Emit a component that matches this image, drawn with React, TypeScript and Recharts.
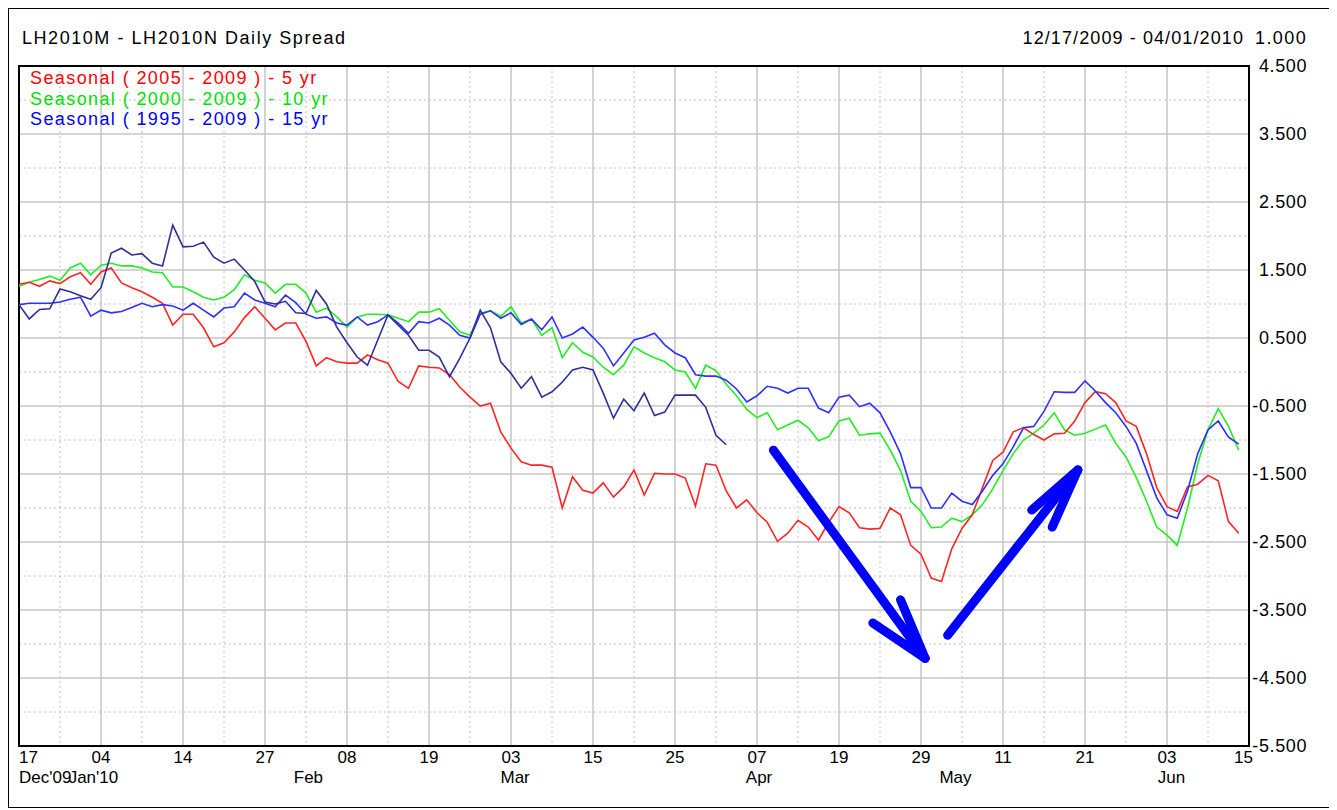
import React from 'react';
import {
  LineChart,
  Line,
  XAxis,
  YAxis,
  CartesianGrid,
  ReferenceArea,
  ReferenceLine
} from 'recharts';

// trading-day index 0..120, ticks every 8 days
const dayTicks = [0, 8, 16, 24, 32, 40, 48, 56, 64, 72, 80, 88, 96, 104, 112, 120];
const dayLabels = ['17', '04', '14', '27', '08', '19', '03', '15', '25', '07', '19', '29', '11', '21', '03', '15'];
const minorDays = [4, 12, 20, 28, 36, 44, 52, 60, 68, 76, 84, 92, 100, 108, 116];
const monthTicks = [0, 7.2, 28, 48, 71.6, 90.6, 111.5];
const monthLabels = ["Dec'09", "Jan'10", 'Feb', 'Mar', 'Apr', 'May', 'Jun'];

const yTicks = [4.5, 3.5, 2.5, 1.5, 0.5, -0.5, -1.5, -2.5, -3.5, -4.5, -5.5];
const yMinor = [4, 3, 2, 1, 0, -1, -2, -3, -4, -5];

// Seasonal ( 2005 - 2009 ) - 5 yr
const red5 = [
  1.29, 1.32, 1.26, 1.34, 1.3, 1.4, 1.46, 1.29, 1.47, 1.53,
  1.31, 1.24, 1.18, 1.1, 1.01, 0.69, 0.85, 0.85, 0.65, 0.37,
  0.43, 0.59, 0.8, 0.96, 0.79, 0.62, 0.72, 0.72, 0.45, 0.09,
  0.21, 0.15, 0.13, 0.13, 0.25, 0.18, 0.13, -0.14, -0.24, 0.09,
  0.07, 0.06, -0.04, -0.22, -0.37, -0.5, -0.46, -0.88, -1.12, -1.32,
  -1.37, -1.37, -1.4, -2.0, -1.54, -1.74, -1.78, -1.63, -1.84, -1.69,
  -1.44, -1.81, -1.49, -1.5, -1.5, -1.56, -1.97, -1.35, -1.37, -1.75,
  -2.0, -1.88, -2.07, -2.21, -2.49, -2.37, -2.18, -2.28, -2.47, -2.21,
  -1.98, -2.07, -2.29, -2.31, -2.3, -2.0, -2.1, -2.55, -2.68, -3.03,
  -3.08, -2.6, -2.3, -2.1, -1.7, -1.3, -1.18, -0.88, -0.82, -0.92,
  -1.0, -0.91, -0.9, -0.72, -0.45, -0.29, -0.32, -0.45, -0.72, -0.8,
  -1.2, -1.7, -1.98, -2.05, -1.69, -1.65, -1.52, -1.6, -2.2, -2.37
];

// Seasonal ( 2000 - 2009 ) - 10 yr
const green10 = [
  1.26, 1.32, 1.36, 1.41, 1.35, 1.53, 1.6, 1.43, 1.57, 1.6,
  1.56, 1.56, 1.53, 1.47, 1.46, 1.25, 1.25, 1.18, 1.1, 1.06,
  1.1, 1.21, 1.43, 1.35, 1.31, 1.16, 1.29, 1.29, 1.16, 0.88,
  0.94, 0.81, 0.66, 0.81, 0.85, 0.85, 0.84, 0.79, 0.74, 0.88,
  0.88, 0.93, 0.76, 0.59, 0.54, 0.86, 0.9, 0.82, 0.96, 0.72,
  0.78, 0.54, 0.65, 0.21, 0.43, 0.29, 0.22, 0.07, -0.04, 0.1,
  0.37, 0.28, 0.21, 0.15, 0.03, 0.0, -0.24, 0.1, 0.02, -0.18,
  -0.35, -0.55, -0.67, -0.6, -0.85, -0.78, -0.71, -0.82, -1.01, -0.95,
  -0.72, -0.68, -0.93, -0.91, -0.9, -1.15, -1.45, -1.9, -2.05, -2.29,
  -2.28, -2.15, -2.2, -2.1, -1.95, -1.72, -1.45, -1.2, -1.0, -0.9,
  -0.78, -0.6, -0.85, -0.93, -0.9, -0.84, -0.78, -1.05, -1.25, -1.55,
  -1.9, -2.28, -2.4, -2.55, -2.0, -1.35, -0.85, -0.54, -0.8, -1.15
];

// Seasonal ( 1995 - 2009 ) - 15 yr
const blue15 = [
  0.99, 1.01, 1.01, 1.01, 1.03, 1.07, 1.1, 0.82, 0.91, 0.87,
  0.89, 0.95, 1.01, 0.96, 0.99, 0.97, 0.91, 1.01, 0.91, 0.81,
  0.94, 0.96, 1.16, 1.06, 1.01, 0.96, 1.13, 1.02, 0.85, 0.79,
  0.81, 0.72, 0.69, 0.81, 0.69, 0.74, 0.84, 0.72, 0.57, 0.74,
  0.72, 0.79, 0.69, 0.54, 0.5, 0.85, 0.9, 0.79, 0.87, 0.7,
  0.78, 0.62, 0.81, 0.5, 0.56, 0.66, 0.51, 0.35, 0.09, 0.28,
  0.47, 0.51, 0.57, 0.4, 0.28, 0.21, -0.04, -0.06, -0.06, -0.12,
  -0.25, -0.44, -0.35, -0.21, -0.24, -0.31, -0.24, -0.24, -0.53, -0.6,
  -0.37, -0.34, -0.51, -0.46, -0.6, -0.88, -1.2, -1.7, -1.7, -2.0,
  -2.0, -1.78, -1.9, -1.95, -1.75, -1.52, -1.35, -1.1, -0.82, -0.8,
  -0.58, -0.29, -0.3, -0.3, -0.13, -0.28, -0.45, -0.6, -0.8, -1.05,
  -1.45, -1.85, -2.1, -2.15, -1.75, -1.2, -0.85, -0.72, -0.96, -1.06
];

// actual 2010 spread, 12/17/2009 - 04/01/2010
const actual2010 = [
  0.99, 0.78, 0.92, 0.93, 1.22, 1.18, 1.12, 1.07, 1.24, 1.75,
  1.82, 1.72, 1.74, 1.6, 1.56, 2.16, 1.84, 1.85, 1.91, 1.69,
  1.6, 1.66, 1.5, 1.33, 1.03, 1.0, 1.04, 0.87, 0.86, 1.2,
  1.0, 0.66, 0.43, 0.22, 0.1, 0.47, 0.84, 0.69, 0.54, 0.32,
  0.32, 0.22, -0.07, 0.2, 0.5, 0.91, 0.65, 0.15, -0.02, -0.24,
  -0.07, -0.37, -0.29, -0.15, 0.03, 0.07, 0.03, -0.31, -0.68, -0.4,
  -0.57, -0.31, -0.64, -0.59, -0.34, -0.34, -0.34, -0.52, -0.93, -1.07
];

// hand-drawn arrows: [x1, y1, x2, y2] in chart units
const arrowSegments = [
  [73.6, -1.15, 88.4, -4.21],
  [83.3, -3.69, 88.4, -4.21],
  [86.0, -3.35, 88.4, -4.21],
  [90.6, -3.87, 103.3, -1.44],
  [98.8, -2.03, 103.3, -1.44],
  [100.8, -2.28, 103.3, -1.44]
];

const legendItems = [
  { label: 'Seasonal ( 2005 - 2009 ) - 5 yr', color: '#ff0000' },
  { label: 'Seasonal ( 2000 - 2009 ) - 10 yr', color: '#00e000' },
  { label: 'Seasonal ( 1995 - 2009 ) - 15 yr', color: '#0000ff' }
];

const rows = red5.map((r, i) => ({
  i,
  r,
  g: green10[i],
  b: blue15[i],
  n: i < actual2010.length ? actual2010[i] : null
}));

const FONT = '"Liberation Sans", Arial, sans-serif';

const DayTick = (props: any) => {
  const { x, y, index } = props;
  const last = index === dayLabels.length - 1;
  return (
    <text x={last ? x + 4 : x} y={y} dy="0.71em"
      textAnchor={index === 0 ? 'start' : last ? 'end' : 'middle'}
      fontSize={17} fontFamily={FONT} fill="#000">
      {dayLabels[index]}
    </text>
  );
};

const MonthTick = (props: any) => {
  const { x, y, index } = props;
  return (
    <text x={x} y={y} dy="0.71em" textAnchor={index === 0 ? 'start' : 'middle'}
      fontSize={17} fontFamily={FONT} fill="#000">
      {monthLabels[index]}
    </text>
  );
};

const ValueTick = (props: any) => {
  const { x, y, payload } = props;
  return (
    <text x={x + 52} y={y} dy="0.36em" textAnchor="end"
      fontSize={18} fontFamily={FONT} fill="#000" letterSpacing={0.6}>
      {payload.value.toFixed(3)}
    </text>
  );
};

const textStyle: React.CSSProperties = {
  position: 'absolute',
  fontFamily: FONT,
  fontSize: 18,
  lineHeight: '20px',
  letterSpacing: 1.1,
  color: '#000',
  whiteSpace: 'nowrap'
};

export default function App() {
  return (
    <div style={{ position: 'relative', width: 1320, height: 798, border: '1px solid #000', background: '#fff' }}>
      <LineChart width={1320} height={790} data={rows}
        margin={{ top: 57, right: 20, left: 10, bottom: 11 }}>
        <CartesianGrid stroke="#c6c6c6" strokeWidth={1.5}
          verticalValues={dayTicks} horizontalValues={yTicks} />
        <CartesianGrid stroke="#c0c0c0" strokeDasharray="2 3"
          verticalValues={minorDays} horizontalValues={yMinor} />
        <XAxis dataKey="i" type="number" domain={[0, 120]} ticks={dayTicks}
          axisLine={false} tickLine={false} tickSize={4} tickMargin={1}
          height={20} tick={<DayTick />} interval={0} allowDataOverflow />
        <XAxis xAxisId="m" type="number" domain={[0, 120]} ticks={monthTicks}
          axisLine={false} tickLine={false} tickSize={4} tickMargin={1}
          height={22} tick={<MonthTick />} interval={0} allowDataOverflow />
        <YAxis orientation="right" type="number" domain={[-5.5, 4.5]} ticks={yTicks}
          axisLine={false} tickLine={false} tickSize={4} tickMargin={2}
          width={60} tick={<ValueTick />} interval={0} allowDataOverflow />
        <Line dataKey="g" stroke="#22ee22" strokeWidth={1.6} dot={false} isAnimationActive={false} />
        <Line dataKey="r" stroke="#ff2525" strokeWidth={1.6} dot={false} isAnimationActive={false} />
        <Line dataKey="b" stroke="#2f2fff" strokeWidth={1.6} dot={false} isAnimationActive={false} />
        <Line dataKey="n" stroke="#30309a" strokeWidth={1.6} dot={false} isAnimationActive={false} />
        {arrowSegments.map((s, k) => (
          <ReferenceLine key={k} segment={[{ x: s[0], y: s[1] }, { x: s[2], y: s[3] }]}
            stroke="#0000ff" strokeWidth={9} strokeLinecap="round" ifOverflow="visible" />
        ))}
        <ReferenceArea x1={0} x2={120} y1={-5.5} y2={4.5} fill="none" fillOpacity={0}
          stroke="#000" strokeWidth={2} ifOverflow="visible" />
      </LineChart>

      <div style={{ ...textStyle, left: 13, top: 19, letterSpacing: 1.55 }}>LH2010M - LH2010N Daily Spread</div>
      <div style={{ ...textStyle, left: 0, width: 1235, top: 19, textAlign: 'right' }}>12/17/2009 - 04/01/2010</div>
      <div style={{ ...textStyle, left: 1246, top: 19, letterSpacing: 1.4 }}>1.000</div>

      {legendItems.map((it, k) => (
        <div key={it.label} style={{ ...textStyle, letterSpacing: 1.4, left: 21, top: 59 + k * 20.5, color: it.color }}>
          {it.label}
        </div>
      ))}
    </div>
  );
}
